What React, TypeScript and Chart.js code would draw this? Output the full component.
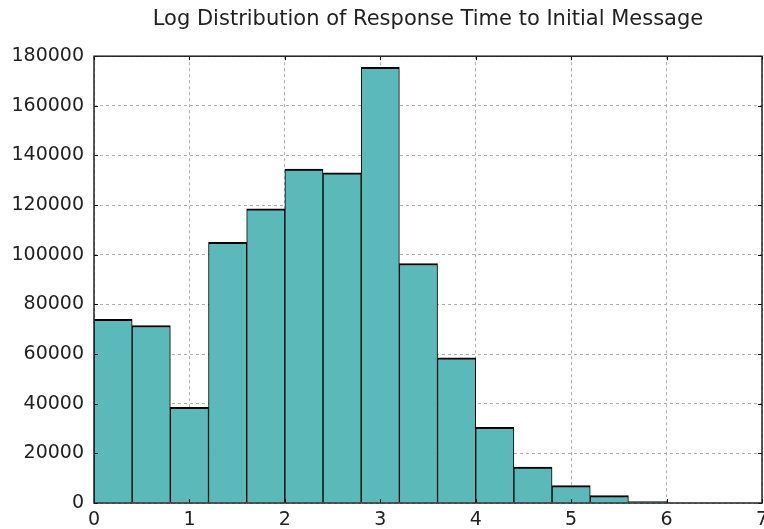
import React, { useEffect, useRef } from "react";
import { Chart, registerables } from "chart.js";

Chart.register(...registerables);

const binCenters = [0.2, 0.6, 1.0, 1.4, 1.8, 2.2, 2.6, 3.0, 3.4, 3.8, 4.2, 4.6, 5.0, 5.4, 5.8];
const counts = [74000, 71500, 38500, 105000, 118500, 134500, 133000, 175500, 96500, 58500, 30500, 14500, 7000, 3000, 600];
const xTicks = [0, 1, 2, 3, 4, 5, 6, 7];
const yTicks = [0, 20000, 40000, 60000, 80000, 100000, 120000, 140000, 160000, 180000];
const title = "Log Distribution of Response Time to Initial Message";

const frameTicks = {
  id: "frameTicks",
  afterDraw(chart: any) {
    const { ctx, chartArea: a, scales } = chart;
    ctx.save();
    ctx.strokeStyle = "#000";
    ctx.lineWidth = 1;
    const L = 4;
    for (const v of xTicks) {
      const px = Math.round(scales.x.getPixelForValue(v)) + 0.5;
      ctx.beginPath();
      ctx.moveTo(px, a.bottom);
      ctx.lineTo(px, a.bottom - L);
      ctx.moveTo(px, a.top);
      ctx.lineTo(px, a.top + L);
      ctx.stroke();
    }
    for (const v of yTicks) {
      const py = Math.round(scales.y.getPixelForValue(v)) + 0.5;
      ctx.beginPath();
      ctx.moveTo(a.left, py);
      ctx.lineTo(a.left + L, py);
      ctx.moveTo(a.right, py);
      ctx.lineTo(a.right - L, py);
      ctx.stroke();
    }
    ctx.lineWidth = 1.5;
    ctx.strokeStyle = "#222";
    ctx.strokeRect(a.left, a.top, a.right - a.left, a.bottom - a.top);
    ctx.restore();
  },
};

export default function App() {
  const ref = useRef<HTMLCanvasElement | null>(null);
  useEffect(() => {
    document.body.style.margin = "0";
    const c = new Chart(ref.current as HTMLCanvasElement, {
      type: "bar",
      data: {
        datasets: [
          {
            data: binCenters.map((x, i) => ({ x, y: counts[i] })),
            backgroundColor: "rgb(91,185,185)",
            borderColor: "#000",
            borderWidth: { top: 2, left: 1, right: 1, bottom: 0 } as any,
            barPercentage: 1,
            categoryPercentage: 1,
          },
        ],
      },
      options: {
        responsive: false,
        animation: false,
        layout: { padding: { left: 0, right: 2, top: 0, bottom: 0 } },
        plugins: {
          legend: { display: false },
          tooltip: { enabled: false },
          title: {
            display: true,
            fullSize: false,
            text: title,
            color: "#222",
            font: { family: "DejaVu Sans", size: 21, weight: "normal" as any },
            padding: { top: 7, bottom: 24 },
          },
        },
        scales: {
          x: {
            type: "linear",
            min: 0,
            max: 7,
            offset: false,
            z: 1,
            afterBuildTicks: (s: any) => {
              s.ticks = xTicks.map((v) => ({ value: v }));
            },
            afterFit: (s: any) => {
              s.paddingLeft = 0;
              s.paddingRight = 0;
              s.height = 26;
            },
            ticks: {
              color: "#222",
              font: { family: "DejaVu Sans", size: 19 },
              padding: 6,
              maxRotation: 0,
              autoSkip: false,
              callback: (v: any) => String(v),
            },
            grid: {
              color: "#b0b0b0",
              lineWidth: 1,
              drawTicks: false,
              tickLength: 0,
              offset: false,
            },
            border: { display: false, dash: [3, 3] },
          },
          y: {
            min: 0,
            max: 180000,
            z: 1,
            afterBuildTicks: (s: any) => {
              s.ticks = yTicks.map((v) => ({ value: v }));
            },
            afterFit: (s: any) => {
              s.paddingTop = 0;
              s.paddingBottom = 0;
              s.width = 94;
            },
            ticks: {
              color: "#222",
              font: { family: "DejaVu Sans", size: 19 },
              padding: 10,
              autoSkip: false,
              callback: (v: any) => String(v),
            },
            grid: {
              color: "#b0b0b0",
              lineWidth: 1,
              drawTicks: false,
              tickLength: 0,
            },
            border: { display: false, dash: [3, 3] },
          },
        },
      },
      plugins: [frameTicks],
    });
    return () => c.destroy();
  }, []);
  return (
    <div style={{ position: "fixed", left: 0, top: 0, width: 764, height: 529, background: "#fff" }}>
      <canvas ref={ref} width={764} height={529} style={{ display: "block" }} />
    </div>
  );
}
